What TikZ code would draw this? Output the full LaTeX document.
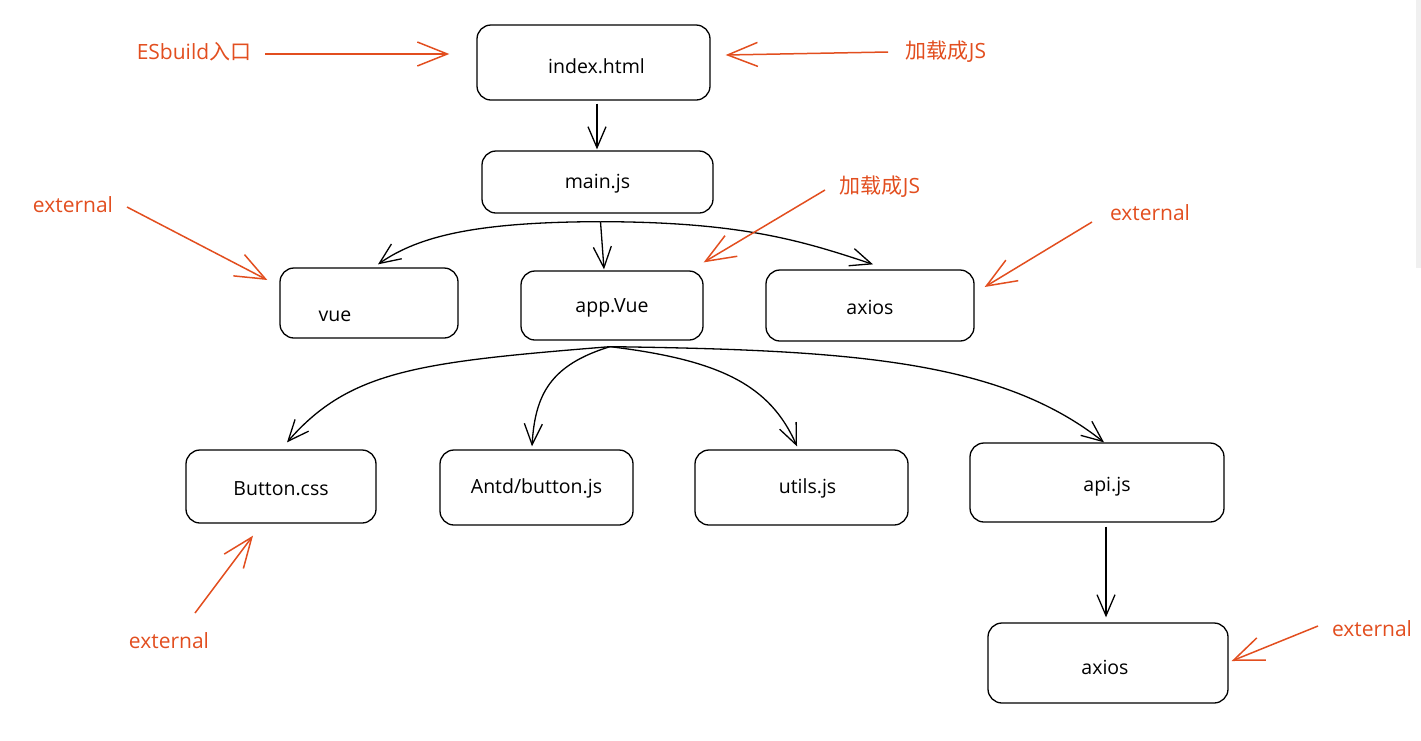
\documentclass[tikz,border=0pt]{standalone}
\usepackage{fontspec}
\setmainfont{Open Sans}
\newfontfamily\cjk{Noto Sans CJK SC}
\usetikzlibrary{arrows.meta,calc}
\definecolor{exred}{HTML}{E24E1F}
\begin{document}
\begin{tikzpicture}[x=1pt,y=-1pt,
  box/.style={draw=black, line width=1.3pt, rounded corners=14pt, inner sep=0pt},
  lbl/.style={font=\fontsize{19.5}{22}\selectfont, inner sep=0pt},
  rlbl/.style={text=exred, font=\fontsize{21}{24}\selectfont, inner sep=0pt},
  arr/.style={draw=black, line width=1.3pt, -{Straight Barb[length=21pt,width=18pt,line width=1.3pt]}},
  rarr/.style={draw=exred, line width=1.5pt, -{Straight Barb[length=30pt,width=24pt,line width=1.5pt]}}]
\useasboundingbox (0,0) rectangle (1421,740);
\fill[gray!12] (1416,0) rectangle (1421,268);
% boxes
\node[box, minimum width=233pt, minimum height=75pt,
  label={[lbl, xshift=3pt, yshift=-4pt]center:index.html}] (idx) at (593.5,62.5) {};
\node[box, minimum width=231pt, minimum height=62pt,
  label={[lbl, yshift=-2pt]center:main.js}] (main) at (597.5,182) {};
\node[box, minimum width=178pt, minimum height=70pt] (vue) at (369,303) {};
\node[lbl] (vuet) at (335,316) {vue};
\node[box, minimum width=182pt, minimum height=69pt,
  label={[lbl, yshift=-2pt]center:app.Vue}] (app) at (612,305.5) {};
\node[box, minimum width=208pt, minimum height=71pt,
  label={[lbl, yshift=-2pt]center:axios}] (ax1) at (870,305.5) {};
\node[box, minimum width=190pt, minimum height=73pt,
  label={[lbl, yshift=-2pt]center:Button.css}] (btn) at (281,486.5) {};
\node[box, minimum width=193pt, minimum height=75pt,
  label={[lbl, yshift=-1pt]center:Antd/button.js}] (antd) at (536.5,487.5) {};
\node[box, minimum width=213pt, minimum height=75pt,
  label={[lbl, xshift=6pt, yshift=-1pt]center:utils.js}] (utils) at (801.5,487.5) {};
\node[box, minimum width=254pt, minimum height=79pt,
  label={[lbl, xshift=10pt, yshift=-4pt]center:api.js}] (api) at (1097,482.5) {};
\node[box, minimum width=240pt, minimum height=80pt,
  label={[lbl, xshift=-3pt, yshift=-4pt]center:axios}] (ax2) at (1108,663) {};
% red labels
\node[rlbl] (es) at (194,52) {ESbuild{\cjk 入口}};
\node[rlbl] (j1) at (946,52) {{\cjk 加载成}JS};
\node[rlbl] (e1) at (73,205) {external};
\node[rlbl] (j2) at (880,187) {{\cjk 加载成}JS};
\node[rlbl] (e2) at (1150,213) {external};
\node[rlbl] (e3) at (169,641) {external};
\node[rlbl] (e4) at (1372,629) {external};
% black connectors
\coordinate (mo) at ($(main.south)+(3,8)$);
\coordinate (ao) at ($(app.south)+(-2,6)$);
\draw[arr] ($(idx.south)+(3.5,3)$) -- ($(main.north)+(-0.5,-1)$);
\draw[arr] (mo) .. controls (480,222) and (420,235) .. ($(vue.north)+(9,-3)$);
\draw[arr] (mo) -- ($(app.north)+(-8,-1)$);
\draw[arr] (mo) .. controls (740,222) and (800,240) .. ($(ax1.north)+(3,-5)$);
\draw[arr] (ao) .. controls (420,362) and (350,370) .. ($(btn.north)+(6,-7)$);
\draw[arr] (ao) .. controls (550,365) and (535,395) .. ($(antd.north)+(-4.5,-3)$);
\draw[arr] (ao) .. controls (720,360) and (770,385) .. ($(utils.north)+(-4.5,-3)$);
\draw[arr] (ao) .. controls (850,350) and (1000,360) .. ($(api.north)+(7,0)$);
\draw[arr] ($(api.south)+(9,4)$) -- ($(ax2.north)+(-2,-5)$);
% red connectors
\draw[rarr] ($(es)+(71,2)$) -- ($(idx.west)+(-27,-8.5)$);
\draw[rarr] ($(j1)+(-58,0)$) -- ($(idx.east)+(15,-7.5)$);
\draw[rarr] ($(e1)+(54,2)$) -- ($(vue.west)+(-12,-23)$);
\draw[rarr] ($(j2)+(-55,3)$) -- ($(app.north east)+(0,-8)$);
\draw[rarr] ($(e2)+(-58,9)$) -- ($(ax1.east)+(10,-18.5)$);
\draw[rarr] ($(e3)+(26,-28)$) -- ($(btn.south)+(-28,12)$);
\draw[rarr] ($(e4)+(-54,-3)$) -- ($(ax2.east)+(3,-2)$);
\end{tikzpicture}
\end{document}
